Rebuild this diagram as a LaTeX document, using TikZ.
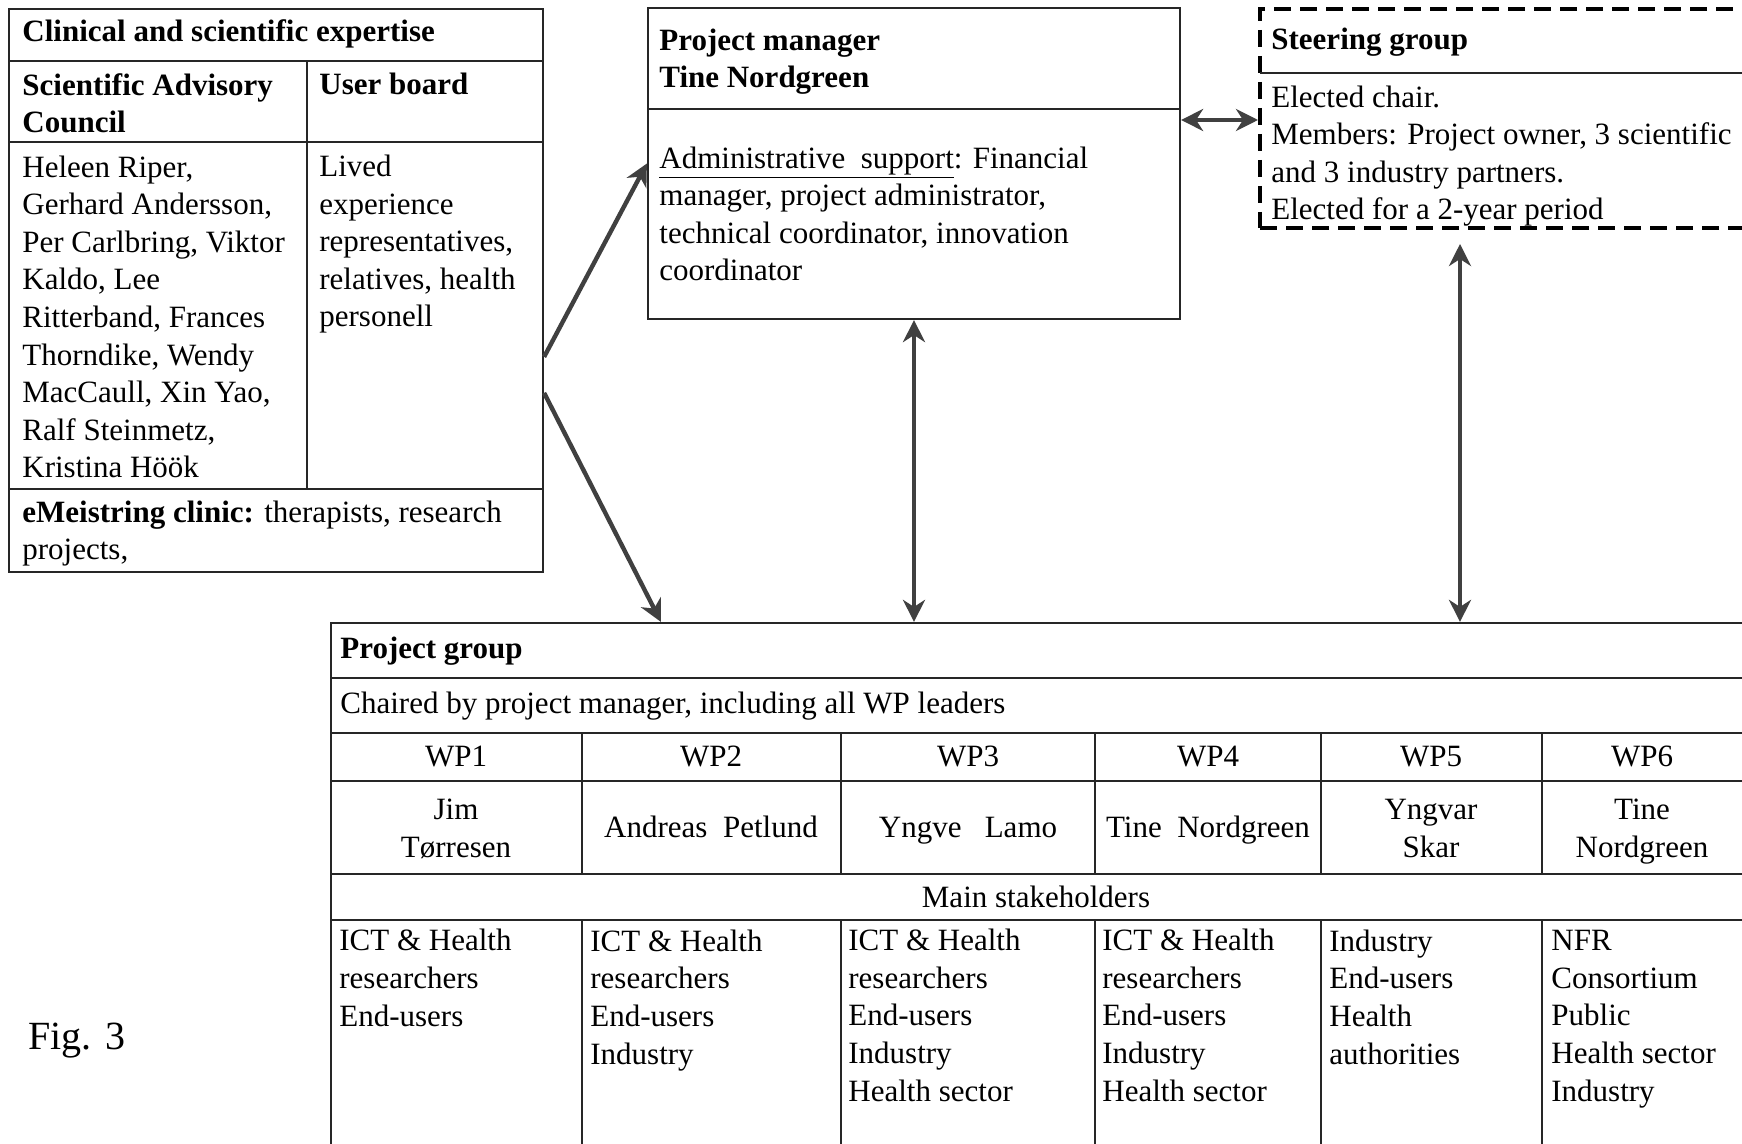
\documentclass[tikz,border=0pt]{standalone}
\usepackage{fontspec}
\setmainfont{Liberation Serif}
\usetikzlibrary{arrows.meta,fit,calc}

\begin{document}
\begin{tikzpicture}[x=0.5pt,y=-0.5pt]
	\tikzset{
	box/.style={draw=black!85,line width=1.1pt,inner sep=0pt},
	rule/.style={draw=black!85,line width=1.1pt},
	txt/.style={inner sep=0pt,anchor=base west,align=left,font=\fontsize{15.5}{18.8}\selectfont},
	bold/.style={txt,font=\fontsize{15.5}{18.8}\selectfont\bfseries},
	ctr/.style={inner sep=0pt,anchor=base,align=center,font=\fontsize{15.5}{18.8}\selectfont},
	conn/.style={draw=black!75,line width=2.2pt,-{Stealth[length=11pt,width=11pt,inset=3.5pt]}},
	dconn/.style={draw=black!75,line width=2.2pt,{Stealth[length=11pt,width=11pt,inset=3.5pt]}-{Stealth[length=11pt,width=11pt,inset=3.5pt]}},
	}
	\path[fill=white,use as bounding box] (0,0) rectangle (1742,1144);
	\clip (0,0) rectangle (1742,1144);

	%EXPERTISE (text nodes sit on the baseline of their last line)
	\node[box,fit={(9,9) (543,572)}] (expert) {};
	\draw[rule] (9,61) -- (543,61);
	\draw[rule] (9,142) -- (543,142);
	\draw[rule] (9,489) -- (543,489);
	\draw[rule] (307,61) -- (307,489);
	\node[bold] (clin) at (22,42) {Clinical and scientific expertise};
	\node[bold] (sac) at (22,133) {Scientific Advisory\\Council};
	\node[bold] (ub) at (319,95) {User board};
	\node[txt] (sacnames) at (22,478) {Heleen Riper,\\Gerhard Andersson,\\Per Carlbring, Viktor\\Kaldo, Lee\\Ritterband, Frances\\Thorndike, Wendy\\MacCaull, Xin Yao,\\Ralf Steinmetz,\\Kristina Höök};
	\node[txt] (ubtext) at (319,327) {Lived\\experience\\representatives,\\relatives, health\\personell};
	\node[txt] (clinic) at (22,560) {\textbf{eMeistring clinic:} therapists, research\\projects,};

	%PROJECT MANAGER
	\node[box,fit={(648,8) (1180,319)}] (pm) {};
	\draw[rule] (648,109) -- (1180,109);
	\node[bold] (pmhead) at (659,88) {Project manager\\Tine Nordgreen};
	\node[txt] (pmbody) at (659,281) {\underline{Administrative\ \ support}: Financial\\manager, project administrator,\\technical coordinator, innovation\\coordinator};

	%STEERING GROUP
	\node[draw=black,line width=2pt,dash pattern=on 8.5pt off 4.5pt,inner sep=0pt,fit={(1260,9) (1790,228)}] (sg) {};
	\draw[draw=black!85,line width=0.9pt] (1260,73) -- (1742,73);
	\node[bold] (sghead) at (1271,50) {Steering group};
	\node[txt] (sgbody) at (1271,220) {Elected chair.\\Members: Project owner, 3 scientific\\and 3 industry partners.\\Elected for a 2-year period};

	%PROJECT GROUP
	\node[box,fit={(331,623) (1760,1170)}] (pg) {};
	\draw[rule] (331,678) -- (1742,678);
	\draw[rule] (331,733) -- (1742,733);
	\draw[rule] (331,781) -- (1742,781);
	\draw[rule] (331,874) -- (1742,874);
	\draw[rule] (331,920) -- (1742,920);
	\draw[rule] (582,733) -- (582,874) (582,920) -- (582,1144);
	\draw[rule] (841,733) -- (841,874) (841,920) -- (841,1144);
	\draw[rule] (1095,733) -- (1095,874) (1095,920) -- (1095,1144);
	\draw[rule] (1321,733) -- (1321,874) (1321,920) -- (1321,1144);
	\draw[rule] (1542,733) -- (1542,874) (1542,920) -- (1542,1144);
	\node[bold] (pghead) at (340,659) {Project group};
	\node[txt] (pgchair) at (340,713) {Chaired by project manager, including all WP leaders};
	%WP1
	\node[ctr] (wp1) at (456,767) {WP1};
	\node[ctr] (lead1) at (456,857) {Jim\\Tørresen};
	\node[txt] (sh1) at (339,1026) {ICT \& Health\\researchers\\End-users};
	%WP2
	\node[ctr] (wp2) at (711,767) {WP2};
	\node[ctr] (lead2) at (711,837) {Andreas\ \ Petlund};
	\node[txt] (sh2) at (590,1064) {ICT \& Health\\researchers\\End-users\\Industry};
	%WP3
	\node[ctr] (wp3) at (968,767) {WP3};
	\node[ctr] (lead3) at (968,837) {Yngve\ \ \ Lamo};
	\node[txt] (sh3) at (848,1101) {ICT \& Health\\researchers\\End-users\\Industry\\Health sector};
	%WP4
	\node[ctr] (wp4) at (1208,767) {WP4};
	\node[ctr] (lead4) at (1208,837) {Tine\ \ Nordgreen};
	\node[txt] (sh4) at (1102,1101) {ICT \& Health\\researchers\\End-users\\Industry\\Health sector};
	%WP5
	\node[ctr] (wp5) at (1431,767) {WP5};
	\node[ctr] (lead5) at (1431,857) {Yngvar\\Skar};
	\node[txt] (sh5) at (1329,1064) {Industry\\End-users\\Health\\authorities};
	%WP6
	\node[ctr] (wp6) at (1642,767) {WP6};
	\node[ctr] (lead6) at (1642,857) {Tine\\Nordgreen};
	\node[txt] (sh6) at (1551,1101) {NFR\\Consortium\\Public\\Health sector\\Industry};
	\node[ctr] (main) at (1036,907) {Main stakeholders};

	\node[txt,font=\fontsize{20}{24}\selectfont] (fig) at (28,1049) {Fig. 3};

	%ARROWS
	\coordinate (sgin) at ($(sg.north west)+(0,113)$);
	\coordinate (sgout) at ($(sg.south west)+(202,14)$);
	\draw[conn] ($(expert.north east)+(0,349)$) -- (pm.west);
	\draw[conn] ($(expert.north east)+(0,385)$) -- ($(pg.north west)+(331,0)$);
	\draw[dconn] (pm.east |- sgin) -- (sgin);
	\draw[dconn] (pm.south) -- (pm.south |- pg.north);
	\draw[dconn] (sgout) -- (sgout |- pg.north);
\end{tikzpicture}
\end{document}
